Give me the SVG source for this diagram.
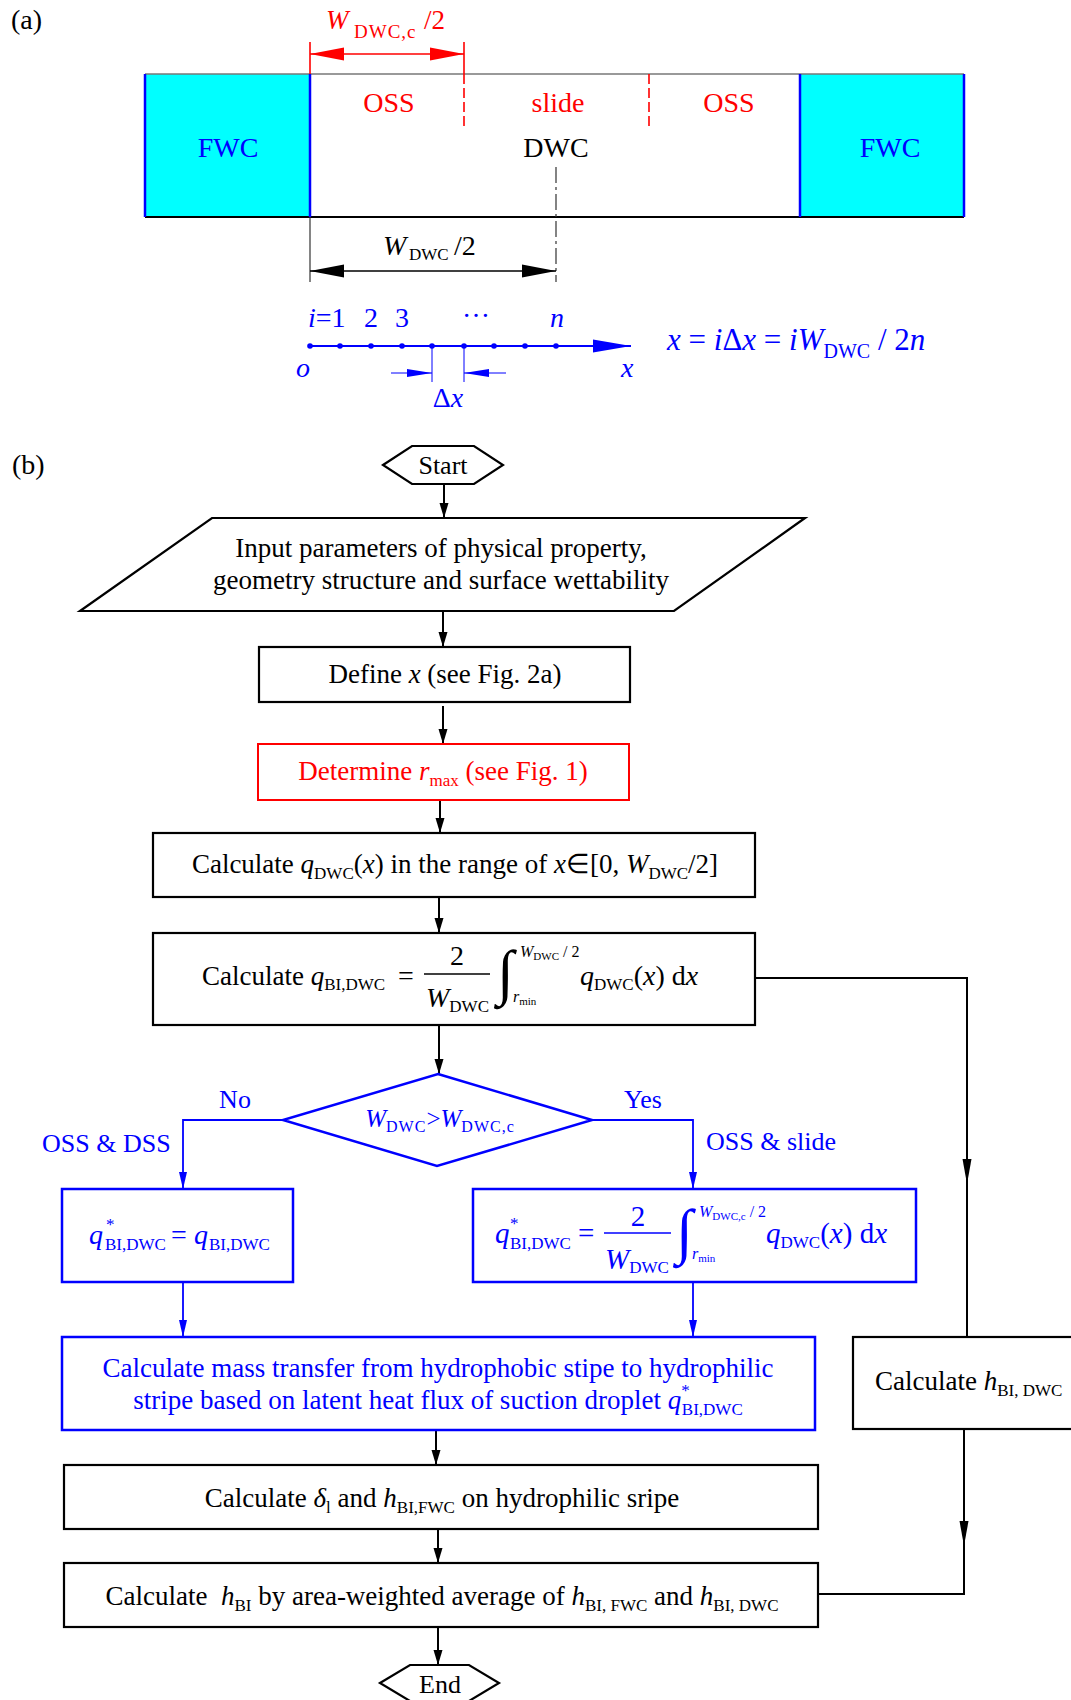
<svg xmlns="http://www.w3.org/2000/svg" width="1071" height="1700" viewBox="0 0 1071 1700">
<style>
text{font-family:"Liberation Serif","Times New Roman",serif;}
.k{fill:#000}.b{fill:#0000ff}.r{fill:#ff0000}
.i{font-style:italic}
.box{fill:#fff;stroke:#000;stroke-width:2.2}
.bbox{fill:#fff;stroke:#0000ff;stroke-width:2.5}
.rbox{fill:#fff;stroke:#ff0000;stroke-width:2}
.ck{fill:none;stroke:#000;stroke-width:2}
.cb{fill:none;stroke:#0000ff;stroke-width:1.8}
.m{font-size:27px}
.int{font-size:61px;font-style:italic}
</style>
<defs>
<marker id="ak" markerUnits="userSpaceOnUse" markerWidth="16" markerHeight="10" refX="15" refY="5" orient="auto"><path d="M0,0.5 L15,5 L0,9.5 z" fill="#000"/></marker>
<marker id="ab" markerUnits="userSpaceOnUse" markerWidth="18" markerHeight="10" refX="17" refY="5" orient="auto"><path d="M0,1 L17,5 L0,9 z" fill="#0000ff"/></marker>
<marker id="akl" markerUnits="userSpaceOnUse" markerWidth="26" markerHeight="10" refX="25" refY="5" orient="auto"><path d="M0,0.5 L25,5 L0,9.5 z" fill="#000"/></marker>
<marker id="bigk" markerUnits="userSpaceOnUse" markerWidth="34" markerHeight="14" refX="34" refY="7" orient="auto-start-reverse"><path d="M0,0.5 L34,7 L0,13.5 z" fill="#000"/></marker>
<marker id="bigr" markerUnits="userSpaceOnUse" markerWidth="34" markerHeight="14" refX="34" refY="7" orient="auto-start-reverse"><path d="M0,0.5 L34,7 L0,13.5 z" fill="#ff0000"/></marker>
<marker id="axb" markerUnits="userSpaceOnUse" markerWidth="38" markerHeight="14" refX="38" refY="7" orient="auto"><path d="M0,0.5 L38,7 L0,13.5 z" fill="#0000ff"/></marker>
<marker id="dxb" markerUnits="userSpaceOnUse" markerWidth="25" markerHeight="9" refX="25" refY="4.5" orient="auto"><path d="M0,0.5 L25,4.5 L0,8.5 z" fill="#0000ff"/></marker>
</defs>

<!-- ===== Part (a) ===== -->
<g id="part-a">
<text x="11" y="29" font-size="28" class="k">(a)</text>
<rect x="145" y="74" width="165" height="143" fill="#00ffff"/>
<rect x="800" y="74" width="164" height="143" fill="#00ffff"/>
<line x1="145" y1="74" x2="964" y2="74" stroke="#777" stroke-width="1.5"/>
<line x1="145" y1="217" x2="964" y2="217" stroke="#000" stroke-width="2"/>
<g stroke="#0000ff" stroke-width="2.5">
<line x1="145" y1="74" x2="145" y2="217"/><line x1="310" y1="74" x2="310" y2="217"/>
<line x1="800" y1="74" x2="800" y2="217"/><line x1="964" y1="74" x2="964" y2="217"/>
</g>
<g stroke="#ff0000" stroke-width="1.6">
<line x1="310" y1="42" x2="310" y2="74"/>
<line x1="464" y1="42" x2="464" y2="74"/>
<line x1="464" y1="74" x2="464" y2="128" stroke-dasharray="10 4"/>
<line x1="649" y1="74" x2="649" y2="128" stroke-dasharray="10 4"/>
<line x1="310" y1="54" x2="464" y2="54" marker-start="url(#bigr)" marker-end="url(#bigr)"/>
</g>
<text x="326" y="29" font-size="27" class="r"><tspan class="i">W</tspan><tspan x="354" y="38" font-size="19" letter-spacing="1">DWC,c</tspan><tspan x="424" y="29">/2</tspan></text>
<text x="389" y="112" font-size="28" class="r" text-anchor="middle">OSS</text>
<text x="558" y="112" font-size="28" class="r" text-anchor="middle">slide</text>
<text x="729" y="112" font-size="28" class="r" text-anchor="middle">OSS</text>
<text x="556" y="157" font-size="28" class="k" text-anchor="middle">DWC</text>
<text x="228" y="157" font-size="28" class="b" text-anchor="middle">FWC</text>
<text x="890" y="157" font-size="28" class="b" text-anchor="middle">FWC</text>
<line x1="556" y1="167" x2="556" y2="282" stroke="#333" stroke-width="1.2" stroke-dasharray="16 4 3 4"/>
<line x1="310" y1="217" x2="310" y2="282" stroke="#333" stroke-width="1.2"/>
<line x1="310" y1="271" x2="556" y2="271" stroke="#000" stroke-width="1.5" marker-start="url(#bigk)" marker-end="url(#bigk)"/>
<text x="383" y="255" font-size="28" class="k"><tspan class="i">W</tspan><tspan x="409" y="260" font-size="17">DWC</tspan><tspan x="454" y="255">/2</tspan></text>
<line x1="310" y1="346" x2="631" y2="346" stroke="#0000ff" stroke-width="2" marker-end="url(#axb)"/>
<g fill="#0000ff">
<circle cx="310" cy="346" r="2.8"/><circle cx="340" cy="346" r="2.8"/><circle cx="371" cy="346" r="2.8"/>
<circle cx="402" cy="346" r="2.8"/><circle cx="432" cy="346" r="2.8"/><circle cx="464" cy="346" r="2.8"/>
<circle cx="494" cy="346" r="2.8"/><circle cx="525" cy="346" r="2.8"/><circle cx="556" cy="346" r="2.8"/>
</g>
<g stroke="#0000ff" stroke-width="1">
<line x1="432" y1="346" x2="432" y2="382"/><line x1="464" y1="346" x2="464" y2="382"/>
<line x1="391" y1="373" x2="432" y2="373" marker-end="url(#dxb)"/>
<line x1="506" y1="373" x2="464" y2="373" marker-end="url(#dxb)"/>
</g>
<g font-size="28" class="b">
<text x="308" y="327"><tspan class="i">i</tspan>=1</text>
<text x="371" y="327" text-anchor="middle">2</text>
<text x="402" y="327" text-anchor="middle">3</text>
<text x="476" y="317" text-anchor="middle">…</text>
<text x="557" y="327" text-anchor="middle" class="i">n</text>
<text x="296" y="377" class="i">o</text>
<text x="621" y="377" class="i">x</text>
<text x="448" y="407" text-anchor="middle">Δ<tspan class="i">x</tspan></text>
<text x="667" y="350" font-size="31"><tspan class="i">x</tspan> = <tspan class="i">i</tspan>Δ<tspan class="i">x</tspan> = <tspan class="i">iW</tspan><tspan dy="8" font-size="20">DWC</tspan><tspan dy="-8"> / 2</tspan><tspan class="i">n</tspan></text>
</g>
</g>

<!-- ===== Part (b) ===== -->
<text x="12" y="474" font-size="28" class="k">(b)</text>

<g id="connectors">
<path class="ck" d="M444,484 V518" marker-end="url(#ak)"/>
<path class="ck" d="M443,611 V647" marker-end="url(#ak)"/>
<path class="ck" d="M443,706 V744" marker-end="url(#ak)"/>
<path class="ck" d="M440,800 V833" marker-end="url(#ak)"/>
<path class="ck" d="M439,897 V933" marker-end="url(#ak)"/>
<path class="ck" d="M439,1025 V1074" marker-end="url(#ak)"/>
<path class="ck" d="M755,978 H967 V1184" marker-end="url(#akl)"/>
<path class="ck" d="M967,1182 V1337"/>
<path class="cb" d="M283,1120 H183 V1189" marker-end="url(#ab)"/>
<path class="cb" d="M592,1120 H693 V1189" marker-end="url(#ab)"/>
<path class="cb" d="M183,1282 V1337" marker-end="url(#ab)"/>
<path class="cb" d="M693,1282 V1337" marker-end="url(#ab)"/>
<path class="ck" d="M436,1430 V1465" marker-end="url(#ak)"/>
<path class="ck" d="M438,1529 V1563" marker-end="url(#ak)"/>
<path class="ck" d="M964,1429 V1546" marker-end="url(#akl)"/>
<path class="ck" d="M964,1544 V1594 H818"/>
<path class="ck" d="M438,1627 V1665" marker-end="url(#ak)"/>
<text x="235" y="1108" font-size="26" class="b" text-anchor="middle">No</text>
<text x="643" y="1108" font-size="26" class="b" text-anchor="middle">Yes</text>
<text x="42" y="1152" font-size="26" class="b">OSS &amp; DSS</text>
<text x="706" y="1150" font-size="26" class="b">OSS &amp; slide</text>
</g>

<g id="start">
<polygon points="383,465 412,446 474,446 503,465 474,484 412,484" class="box"/>
<text x="443" y="474" font-size="26" class="k" text-anchor="middle">Start</text>
</g>

<g id="input">
<polygon points="212,518 805,518 674,611 80,611" class="box"/>
<text x="441" y="557" class="k m" text-anchor="middle">Input parameters of physical property,</text>
<text x="441" y="589" class="k m" text-anchor="middle">geometry structure and surface wettability</text>
</g>

<g id="define-x">
<rect x="259" y="647" width="371" height="55" class="box"/>
<text x="445" y="683" class="k m" text-anchor="middle">Define <tspan class="i">x</tspan> (see Fig. 2a)</text>
</g>

<g id="determine-rmax">
<rect x="258" y="744" width="371" height="56" class="rbox"/>
<text x="443" y="780" class="r m" text-anchor="middle">Determine <tspan class="i">r</tspan><tspan dy="6" font-size="17">max</tspan><tspan dy="-6"> (see Fig. 1)</tspan></text>
</g>

<g id="calc-qdwc">
<rect x="153" y="833" width="602" height="64" class="box"/>
<text x="455" y="873" class="k m" text-anchor="middle">Calculate <tspan class="i">q</tspan><tspan dy="6" font-size="17">DWC</tspan><tspan dy="-6">(</tspan><tspan class="i">x</tspan>) in the range of <tspan class="i">x</tspan>∈[0, <tspan class="i">W</tspan><tspan dy="6" font-size="17">DWC</tspan><tspan dy="-6">/2]</tspan></text>
</g>

<g id="calc-qbi">
<rect x="153" y="933" width="602" height="92" class="box"/>
<text x="202" y="985" class="k m">Calculate <tspan class="i">q</tspan><tspan dy="5" font-size="17">BI,DWC</tspan></text>
<text x="398" y="985" class="k" font-size="28">=</text>
<line x1="424" y1="974" x2="490" y2="974" stroke="#000" stroke-width="1.5"/>
<text x="457" y="965" class="k" font-size="28" text-anchor="middle">2</text>
<text x="426" y="1007" class="k" font-size="28"><tspan class="i">W</tspan><tspan dy="5" font-size="17">DWC</tspan></text>
<text x="497" y="993" class="k int">∫</text>
<text x="520" y="957" class="k" font-size="16"><tspan class="i">W</tspan><tspan dy="3" font-size="11">DWC</tspan><tspan dy="-3"> / 2</tspan></text>
<text x="513" y="1002" class="k" font-size="16"><tspan class="i">r</tspan><tspan dy="3" font-size="11">min</tspan></text>
<text x="580" y="985" class="k" font-size="28"><tspan class="i">q</tspan><tspan dy="5" font-size="17">DWC</tspan><tspan dy="-5">(</tspan><tspan class="i">x</tspan>) d<tspan class="i">x</tspan></text>
</g>

<g id="decision">
<polygon points="438,1074 592,1120 437,1166 283,1120" fill="#fff" stroke="#0000ff" stroke-width="2.5"/>
<text x="440" y="1127" font-size="25" class="b" text-anchor="middle"><tspan class="i">W</tspan><tspan dy="5" font-size="16" letter-spacing="1">DWC</tspan><tspan dy="-5">&gt;</tspan><tspan class="i">W</tspan><tspan dy="5" font-size="16" letter-spacing="1">DWC,c</tspan></text>
</g>

<g id="q-star-no">
<rect x="62" y="1189" width="231" height="93" class="bbox"/>
<text x="89" y="1244" class="b" font-size="28"><tspan class="i">q</tspan><tspan x="106" y="1230" font-size="17">*</tspan><tspan x="105" y="1250" font-size="17">BI,DWC</tspan><tspan x="171" y="1244">=</tspan><tspan x="194" y="1244" class="i">q</tspan><tspan x="209" y="1250" font-size="17">BI,DWC</tspan></text>
</g>

<g id="q-star-yes">
<rect x="473" y="1189" width="443" height="93" class="bbox"/>
<text x="495" y="1243" class="b" font-size="29"><tspan class="i">q</tspan><tspan x="510" y="1229" font-size="17">*</tspan><tspan x="510" y="1249" font-size="17">BI,DWC</tspan><tspan x="578" y="1243">=</tspan></text>
<line x1="604" y1="1233" x2="671" y2="1233" stroke="#0000ff" stroke-width="1.5"/>
<text x="638" y="1226" class="b" font-size="29" text-anchor="middle">2</text>
<text x="605" y="1269" class="b" font-size="29"><tspan class="i">W</tspan><tspan dy="4" font-size="17">DWC</tspan></text>
<text x="676" y="1252" class="b int">∫</text>
<text x="699" y="1217" class="b" font-size="16"><tspan class="i">W</tspan><tspan dy="3" font-size="11">DWC,c</tspan><tspan dy="-3"> / 2</tspan></text>
<text x="692" y="1259" class="b" font-size="16"><tspan class="i">r</tspan><tspan dy="3" font-size="11">min</tspan></text>
<text x="766" y="1243" class="b" font-size="29"><tspan class="i">q</tspan><tspan dy="5" font-size="17">DWC</tspan><tspan dy="-5">(</tspan><tspan class="i">x</tspan>) d<tspan class="i">x</tspan></text>
</g>

<g id="mass-transfer">
<rect x="62" y="1337" width="753" height="93" class="bbox"/>
<text x="438" y="1377" class="b m" text-anchor="middle">Calculate mass transfer from hydrophobic stipe to hydrophilic</text>
<text x="438" y="1409" class="b m" text-anchor="middle">stripe based on latent heat flux of suction droplet <tspan class="i">q</tspan><tspan dy="-13" font-size="17">*</tspan><tspan dx="-8" dy="19" font-size="17">BI,DWC</tspan></text>
</g>

<g id="calc-hdwc">
<rect x="853" y="1337" width="230" height="92" class="box"/>
<text x="875" y="1390" class="k m">Calculate <tspan class="i">h</tspan><tspan dy="6" font-size="17">BI, DWC</tspan></text>
</g>

<g id="calc-delta">
<rect x="64" y="1465" width="754" height="64" class="box"/>
<text x="442" y="1507" class="k m" text-anchor="middle">Calculate <tspan class="i">δ</tspan><tspan dy="6" font-size="17">l</tspan><tspan dy="-6"> and </tspan><tspan class="i">h</tspan><tspan dy="6" font-size="17">BI,FWC</tspan><tspan dy="-6"> on hydrophilic sripe</tspan></text>
</g>

<g id="calc-hbi">
<rect x="64" y="1563" width="754" height="64" class="box"/>
<text x="442" y="1605" class="k m" text-anchor="middle" xml:space="preserve">Calculate  <tspan class="i">h</tspan><tspan dy="6" font-size="17">BI</tspan><tspan dy="-6"> by area-weighted average of </tspan><tspan class="i">h</tspan><tspan dy="6" font-size="17">BI, FWC</tspan><tspan dy="-6"> and </tspan><tspan class="i">h</tspan><tspan dy="6" font-size="17">BI, DWC</tspan></text>
</g>

<g id="end">
<polygon points="380,1683 410,1665 469,1665 499,1683 469,1701 410,1701" class="box"/>
<text x="440" y="1693" font-size="26" class="k" text-anchor="middle">End</text>
</g>
</svg>
